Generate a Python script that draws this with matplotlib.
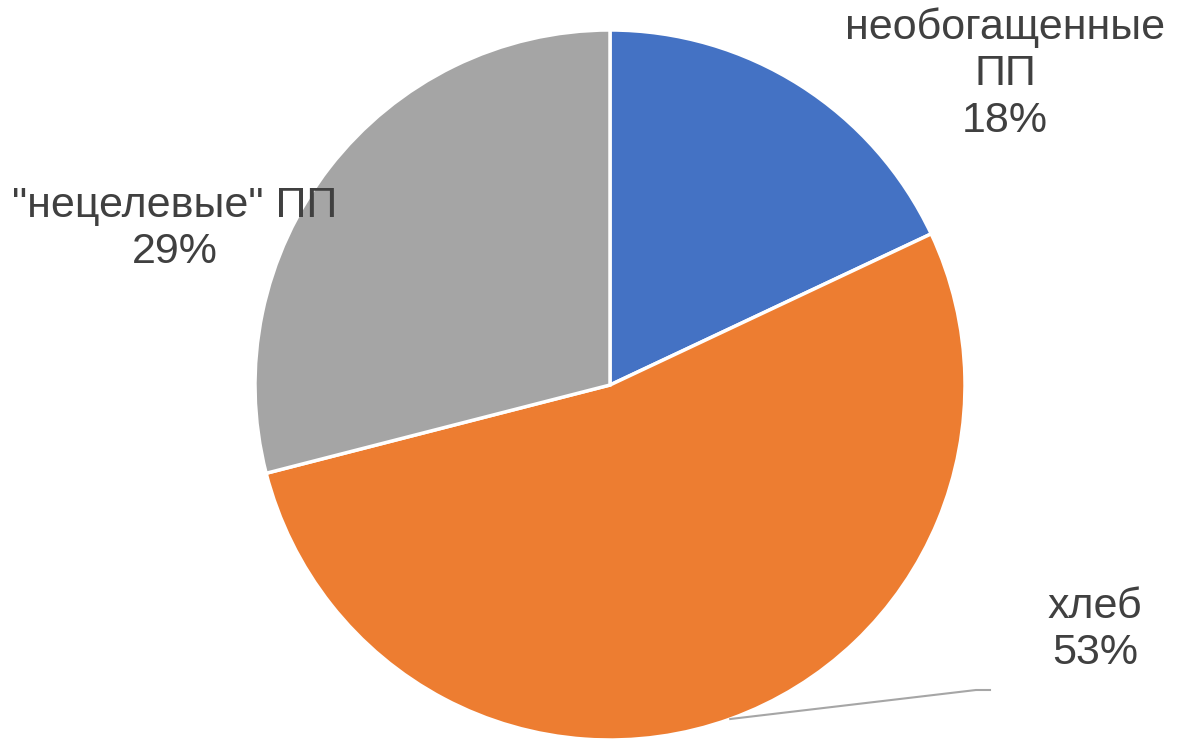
import numpy as np
import matplotlib.pyplot as plt

labels = ["необогащенные\nПП", "хлеб", "\"нецелевые\" ПП"]
shares = [18, 53, 29]
colors = ["#4472C4", "#ED7D31", "#A5A5A5"]

W, H = 1178, 742
fig = plt.figure(figsize=(W / 100, H / 100), dpi=100)
ax = fig.add_axes([0, 0, 1, 1])

cx, cy, r = 610, H - 385, 355
wedges, _ = ax.pie(shares, colors=colors, startangle=90, counterclock=False,
                   center=(cx, cy), radius=r, frame=True,
                   wedgeprops=dict(edgecolor="white", linewidth=2.5))
ax.set_xlim(0, W)
ax.set_ylim(0, H)
ax.set_aspect("equal")
ax.axis("off")

txt = dict(fontsize=31, color="#404040", ha="center", va="center",
           family=["Liberation Sans", "DejaVu Sans"], linespacing=1.22)

# label positions (pixel coords, y from top)
label_pos = [(1005, 74), (1095, 630), (175, 229)]
for i, (lab, val) in enumerate(zip(labels, shares)):
    x, y = label_pos[i]
    s = f"{lab}\n{val}%"
    if i == 1:
        w = wedges[i]
        mid = np.deg2rad((w.theta1 + w.theta2) / 2)
        px, py = cx + r * np.cos(mid), cy + r * np.sin(mid)
        ax.plot([px, 976, 990], [py, H - 690, H - 690], color="#A6A6A6", lw=1.5)
    ax.text(x, H - y, s, **txt)

fig.savefig("out.png", dpi=100)
